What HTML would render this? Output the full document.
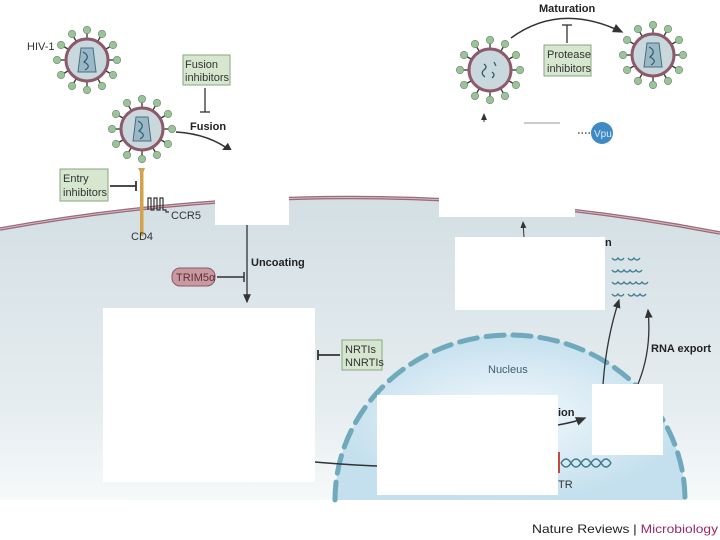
<!DOCTYPE html>
<html><head><meta charset="utf-8"><style>
html,body{margin:0;padding:0;background:#fff;width:720px;height:540px;overflow:hidden}
text{font-family:"Liberation Sans",sans-serif}
</style></head><body>
<svg width="720" height="540" viewBox="0 0 720 540" xmlns="http://www.w3.org/2000/svg">
<defs>
<linearGradient id="cell" x1="0" y1="0" x2="0" y2="1">
<stop offset="0" stop-color="#d3dfe4"/><stop offset="0.7" stop-color="#e6edf0"/><stop offset="1" stop-color="#f6f9fa"/>
</linearGradient>
<radialGradient id="nuc" cx="0.5" cy="0.5" r="0.5">
<stop offset="0" stop-color="#f2f8fc"/><stop offset="0.6" stop-color="#d8eaf4"/><stop offset="1" stop-color="#c4e0ee"/>
</radialGradient>
<marker id="ar" markerWidth="8" markerHeight="8" refX="6" refY="3" orient="auto"><path d="M0,0 L7,3 L0,6 z" fill="#333"/></marker>
<g id="spk"><line x1="0" y1="-21" x2="0" y2="-28" stroke="#333" stroke-width="1.3"/><circle cx="0" cy="-30" r="3.7" fill="#9cc29a" stroke="#6a8a6a" stroke-width="0.6"/></g>
<g id="vir">
<use href="#spk"/><use href="#spk" transform="rotate(30)"/><use href="#spk" transform="rotate(60)"/><use href="#spk" transform="rotate(90)"/><use href="#spk" transform="rotate(120)"/><use href="#spk" transform="rotate(150)"/><use href="#spk" transform="rotate(180)"/><use href="#spk" transform="rotate(210)"/><use href="#spk" transform="rotate(240)"/><use href="#spk" transform="rotate(270)"/><use href="#spk" transform="rotate(300)"/><use href="#spk" transform="rotate(330)"/>
<circle r="21" fill="#c9d8dc" stroke="#8e5a6a" stroke-width="3"/>
</g>
<g id="core"><path d="M-6,-12 L6,-12 L9,12 L-9,12 z" fill="#9ab8c6" stroke="#4a6e7e" stroke-width="1"/><path d="M-4,-8 Q4,-4 -3,2 Q5,6 -2,10" fill="none" stroke="#2f5b6e" stroke-width="1.2"/></g>
</defs>
<path d="M0,229 Q360,164 720,233 L720,500 L0,500 z" fill="url(#cell)"/>
<path d="M0,229 Q360,164 720,233" fill="none" stroke="#9a6a78" stroke-width="3.5"/>
<path d="M0,229 Q360,164 720,233" fill="none" stroke="#d9b9c2" stroke-width="1"/>
<path d="M335,500 A175,165 0 0 1 685,500 z" fill="url(#nuc)"/>
<path d="M335,500 A175,165 0 0 1 685,500" fill="none" stroke="#6fa9bb" stroke-width="5" stroke-dasharray="18,9" stroke-linecap="round"/>
<text x="488" y="373" font-size="11" fill="#3d6070">Nucleus</text>
<g transform="translate(87,60)"><use href="#vir"/><use href="#core"/></g>
<text x="27" y="50" font-size="11" fill="#333">HIV-1</text>
<g transform="translate(142,129)"><use href="#vir"/><use href="#core"/></g>
<g transform="translate(490,70)"><use href="#vir"/><path d="M-6,-6 q4,3 0,6 q-4,3 1,7 M4,-8 l2,4 M2,2 q4,3 0,6" fill="none" stroke="#2f5b6e" stroke-width="1.3"/></g>
<g transform="translate(653,55)"><use href="#vir"/><use href="#core"/></g>
<rect x="140" y="172" width="3.5" height="64" fill="#d4a24c"/>
<path d="M138,168 L145,168 L142,176 z" fill="#d4a24c"/>
<path d="M148,210 v-12 h3 v12 h3 v-12 h3 v12 h3 v-12 h3 v12 h3 v2 h3" fill="none" stroke="#333" stroke-width="1.2"/>
<text x="171" y="219" font-size="11" fill="#333">CCR5</text>
<text x="131" y="240" font-size="11" fill="#333">CD4</text>
<rect x="60" y="169" width="48" height="32" fill="#d6e6cf" stroke="#8aa680"/>
<text x="63" y="182" font-size="11" fill="#333">Entry</text><text x="63" y="196" font-size="11" fill="#333">inhibitors</text>
<line x1="110" y1="186" x2="136" y2="186" stroke="#333" stroke-width="1.8"/><line x1="136" y1="181" x2="136" y2="191" stroke="#333" stroke-width="1.8"/>
<rect x="183" y="55" width="47" height="30" fill="#d6e6cf" stroke="#8aa680"/>
<text x="185" y="68" font-size="11" fill="#333">Fusion</text><text x="185" y="81" font-size="11" fill="#333">inhibitors</text>
<line x1="205" y1="88" x2="205" y2="112" stroke="#333" stroke-width="1.3"/><line x1="200" y1="112" x2="210" y2="112" stroke="#333" stroke-width="1.3"/>
<text x="190" y="130" font-size="11" font-weight="bold" fill="#222">Fusion</text>
<path d="M176,132 Q210,134 232,152" fill="none" stroke="#333" stroke-width="1.5" marker-end="url(#ar)"/>
<line x1="247" y1="222" x2="247" y2="302" stroke="#333" stroke-width="1.3" marker-end="url(#ar)"/>
<text x="251" y="266" font-size="11" font-weight="bold" fill="#222">Uncoating</text>
<rect x="172" y="268" width="43" height="18" rx="8" fill="#c89aa0" stroke="#8a5a62"/>
<text x="176" y="281" font-size="11" fill="#5a3038">TRIM5α</text>
<line x1="217" y1="277" x2="244" y2="277" stroke="#333" stroke-width="1.5"/><line x1="244" y1="272" x2="244" y2="282" stroke="#333" stroke-width="1.5"/>
<rect x="342" y="340" width="40" height="30" fill="#d6e6cf" stroke="#8aa680"/>
<text x="345" y="353" font-size="11" fill="#333">NRTIs</text><text x="345" y="366" font-size="11" fill="#333">NNRTIs</text>
<line x1="318" y1="355" x2="340" y2="355" stroke="#333" stroke-width="1.8"/><line x1="318" y1="350" x2="318" y2="360" stroke="#333" stroke-width="1.8"/>
<path d="M315,462 Q350,465 378,466" fill="none" stroke="#333" stroke-width="1.5"/>
<text x="539" y="12" font-size="11" font-weight="bold" fill="#222">Maturation</text>
<path d="M511,38 Q560,2 622,32" fill="none" stroke="#333" stroke-width="1.5" marker-end="url(#ar)"/>
<line x1="567" y1="25" x2="567" y2="43" stroke="#333" stroke-width="1.3"/><line x1="562" y1="25" x2="572" y2="25" stroke="#333" stroke-width="1.3"/>
<rect x="544" y="45" width="47" height="31" fill="#d6e6cf" stroke="#8aa680"/>
<text x="547" y="58" font-size="11" fill="#333">Protease</text><text x="547" y="72" font-size="11" fill="#333">inhibitors</text>
<line x1="484" y1="122" x2="484" y2="114" stroke="#333" stroke-width="1" marker-end="url(#ar)"/>
<line x1="524" y1="123" x2="560" y2="123" stroke="#999" stroke-width="1"/>
<line x1="578" y1="133" x2="592" y2="133" stroke="#333" stroke-width="1.3" stroke-dasharray="1.5,2"/>
<circle cx="602" cy="133" r="11" fill="#3f8ac4"/><text x="594" y="137" font-size="10" fill="#d8ecf8">Vpu</text>
<line x1="524" y1="237" x2="523" y2="222" stroke="#333" stroke-width="1" marker-end="url(#ar)"/>
<text x="605" y="246" font-size="11" font-weight="bold" fill="#222">n</text>
<g fill="none" stroke="#3c7a8e" stroke-width="1.3">
<path d="M612,258 q3,4 6,0 q3,4 6,0 M628,258 q3,4 6,0 q3,4 6,0 M612,270 q3,4 6,0 q3,4 6,0 q3,4 6,0 q3,4 6,0 q3,4 6,0 M612,282 q3,4 6,0 q3,4 6,0 q3,4 6,0 q3,4 6,0 q3,4 6,0 q3,4 6,0 M612,294 q3,4 6,0 q3,4 6,0 M628,294 q3,4 6,0 q3,4 6,0 q3,4 6,0"/>
</g>
<path d="M603,385 Q606,340 619,300" fill="none" stroke="#333" stroke-width="1.3" marker-end="url(#ar)"/>
<path d="M638,384 Q652,350 648,310" fill="none" stroke="#333" stroke-width="1.3" marker-end="url(#ar)"/>
<text x="651" y="352" font-size="11" font-weight="bold" fill="#222">RNA export</text>
<text x="558" y="416" font-size="11" font-weight="bold" fill="#222">ion</text>
<path d="M558,425 Q575,422 585,418" fill="none" stroke="#333" stroke-width="1.5" marker-end="url(#ar)"/>
<rect x="557" y="452" width="3" height="21" fill="#c24a3a"/>
<path d="M561,463 q5,-8 10,0 q5,8 10,0 q5,-8 10,0 q5,8 10,0 q5,-8 10,0" fill="none" stroke="#3c7a8e" stroke-width="1.5"/>
<path d="M561,463 q5,8 10,0 q5,-8 10,0 q5,8 10,0 q5,-8 10,0 q5,8 10,0" fill="none" stroke="#3c7a8e" stroke-width="1.5"/>
<text x="558" y="488" font-size="11" fill="#333">TR</text>
<rect x="215" y="150" width="74" height="75" fill="#fff"/>
<rect x="439" y="195" width="136" height="22" fill="#fff"/>
<rect x="455" y="237" width="150" height="73" fill="#fff"/>
<rect x="103" y="308" width="212" height="174" fill="#fff"/>
<rect x="377" y="395" width="181" height="100" fill="#fff"/>
<rect x="592" y="384" width="71" height="71" fill="#fff"/>
<text x="718" y="533" font-size="12" fill="#222" text-anchor="end" textLength="186" lengthAdjust="spacingAndGlyphs">Nature Reviews | <tspan fill="#9a2a6a">Microbiology</tspan></text>
</svg>
</body></html>
